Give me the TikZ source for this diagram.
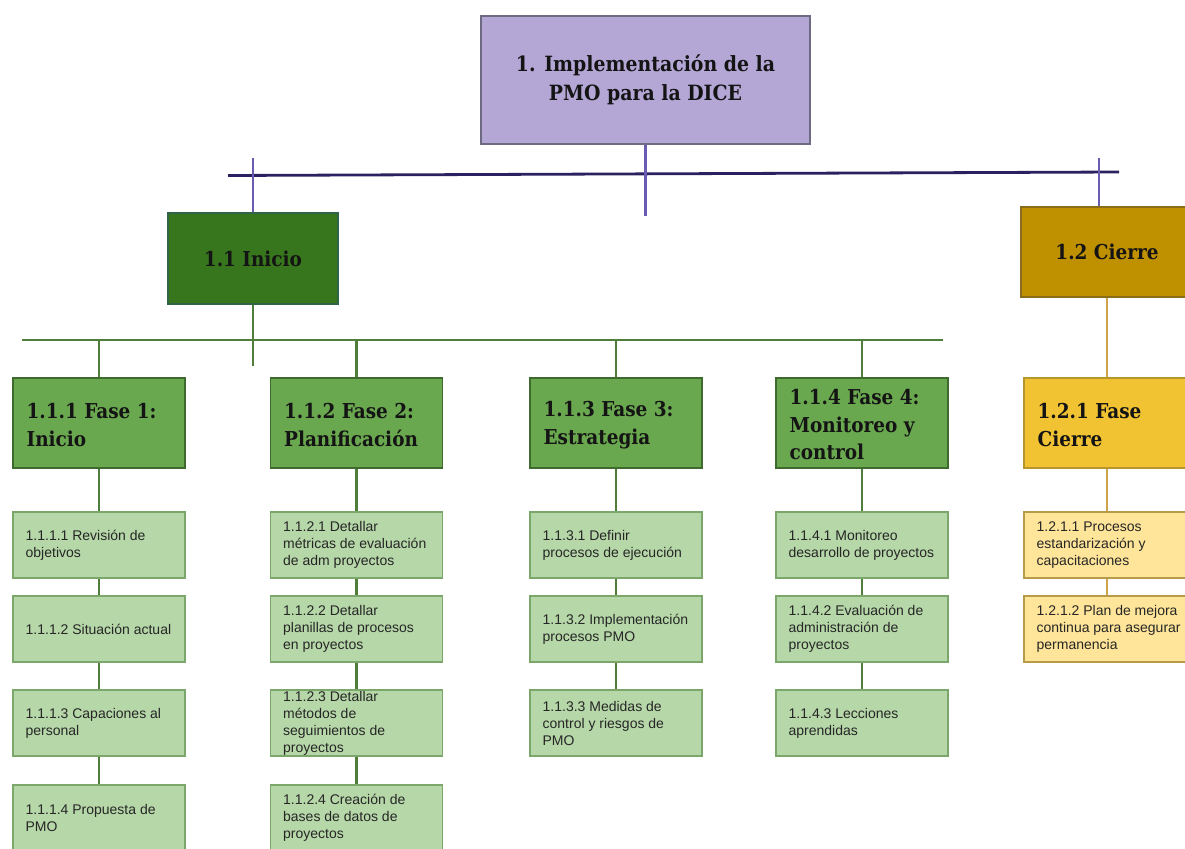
\documentclass[tikz,border=0pt]{standalone}
\usepackage{fontspec}
\newfontfamily\headfont{DejaVu Serif Condensed}
\newfontfamily\bodyfont{Liberation Sans}

\definecolor{ink}{HTML}{141414}
\definecolor{ink2}{HTML}{262626}
\definecolor{busdark}{HTML}{2B2160}
\definecolor{tickpurple}{HTML}{6A5BB3}
\definecolor{topfill}{HTML}{B4A7D6}
\definecolor{topline}{HTML}{6F6A84}
\definecolor{iniciofill}{HTML}{38761D}
\definecolor{inicioline}{HTML}{2F6448}
\definecolor{greenline}{HTML}{4F7D3A}
\definecolor{phasefill}{HTML}{6AA84F}
\definecolor{phaseline}{HTML}{3E6A2D}
\definecolor{leaffill}{HTML}{B6D7A8}
\definecolor{leafline}{HTML}{7BA86A}
\definecolor{cierrefill}{HTML}{BF9000}
\definecolor{cierreline}{HTML}{8A6D1A}
\definecolor{orangeline}{HTML}{CFA24C}
\definecolor{closefill}{HTML}{F1C232}
\definecolor{closeline}{HTML}{B8962E}
\definecolor{closeleaf}{HTML}{FFE599}
\definecolor{closeleafline}{HTML}{B89B48}

\begin{document}
\begin{tikzpicture}[x=1pt,y=-1pt,
  box/.style={rectangle, inner sep=0pt, line width=1.1pt},
  topbox/.style={box, draw=topline, fill=topfill, minimum width=329pt,
    minimum height=128pt, align=center, text=ink,
    font=\headfont\bfseries\fontsize{21}{29}\selectfont},
  midbox/.style={box, minimum width=170pt, minimum height=90pt, text=ink,
    font=\headfont\bfseries\fontsize{20.5}{27}\selectfont},
  phasebox/.style={box, draw=phaseline, fill=phasefill, minimum width=172pt,
    minimum height=90pt},
  closebox/.style={box, draw=closeline, fill=closefill, minimum width=166pt,
    minimum height=90pt},
  leafbox/.style={box, draw=leafline, fill=leaffill, minimum width=172pt,
    minimum height=66pt},
  closeleafbox/.style={box, draw=closeleafline, fill=closeleaf,
    minimum width=166pt, minimum height=66pt},
  phasetext/.style={anchor=west, xshift=14pt, yshift=-2pt, inner sep=0pt, align=left,
    text=ink, font=\headfont\bfseries\fontsize{20.5}{27.5}\selectfont},
  leaftext/.style={anchor=west, xshift=13pt, inner sep=0pt, align=left,
    text=ink2, font=\bodyfont\fontsize{14}{17}\selectfont},
  label distance=0pt,
  busline/.style={draw=busdark, line width=2.8pt},
  tickline/.style={draw=tickpurple, line width=2.1pt},
  greenwire/.style={draw=greenline, line width=2.5pt},
  orangewire/.style={draw=orangeline, line width=2.3pt}
]
\useasboundingbox (0,0) rectangle (1185,848);
\clip (0,0) rectangle (1185,848);
\fill[white] (0,0) rectangle (1185,848);

% free ends of the bus lines and stems
\coordinate (busL) at (228,175.5);
\coordinate (busR) at (1119,172);
\coordinate (topEnd) at (645.5,216);
\coordinate (tickA) at (253,158);
\coordinate (tickB) at (1099,158);
\coordinate (gL) at (22,340);
\coordinate (gR) at (943,340);
\coordinate (inicioEnd) at (253,366);

% level 0 and level 1
\node[topbox] (top) at (645.5,80) {1. Implementación de la\\PMO para la DICE};
\node[midbox, draw=inicioline, fill=iniciofill, minimum height=91pt] (inicio) at (253,258.5) {1.1 Inicio};
\node[midbox, draw=cierreline, fill=cierrefill, minimum width=172pt] (cierre) at (1107,252) {1.2 Cierre};

% phases
\node[phasebox, label={[phasetext]west:{1.1.1 Fase 1:\\Inicio}}] (p1) at (99,423) {};
\node[phasebox, label={[phasetext]west:{1.1.2 Fase 2:\\Planificación}}] (p2) at (356.5,423) {};
\node[phasebox, label={[phasetext]west:{1.1.3 Fase 3:\\Estrategia}}] (p3) at (616,423) {};
\node[phasebox, label={[phasetext]west:{1.1.4 Fase 4:\\Monitoreo y\\control}}] (p4) at (862,423) {};
\node[closebox, label={[phasetext]west:{1.2.1 Fase\\Cierre}}] (p5) at (1107,423) {};

% work packages, phase 1
\node[leafbox, label={[leaftext]west:{1.1.1.1 Revisión de\\objetivos}}] (l11) at (99,545) {};
\node[leafbox, label={[leaftext]west:{1.1.1.2 Situación actual}}] (l12) at (99,629) {};
\node[leafbox, label={[leaftext]west:{1.1.1.3 Capaciones al\\personal}}] (l13) at (99,723) {};
\node[leafbox, label={[leaftext]west:{1.1.1.4 Propuesta de\\PMO}}] (l14) at (99,818) {};

% work packages, phase 2
\node[leafbox, label={[leaftext]west:{1.1.2.1 Detallar\\métricas de evaluación\\de adm proyectos}}] (l21) at (356.5,545) {};
\node[leafbox, label={[leaftext]west:{1.1.2.2 Detallar\\planillas de procesos\\en proyectos}}] (l22) at (356.5,629) {};
\node[leafbox, label={[leaftext]west:{1.1.2.3 Detallar\\métodos de\\seguimientos de\\proyectos}}] (l23) at (356.5,723) {};
\node[leafbox, label={[leaftext]west:{1.1.2.4 Creación de\\bases de datos de\\proyectos}}] (l24) at (356.5,818) {};

% work packages, phase 3
\node[leafbox, label={[leaftext]west:{1.1.3.1 Definir\\procesos de ejecución}}] (l31) at (616,545) {};
\node[leafbox, label={[leaftext]west:{1.1.3.2 Implementación\\procesos PMO}}] (l32) at (616,629) {};
\node[leafbox, label={[leaftext]west:{1.1.3.3 Medidas de\\control y riesgos de\\PMO}}] (l33) at (616,723) {};

% work packages, phase 4
\node[leafbox, label={[leaftext]west:{1.1.4.1 Monitoreo\\desarrollo de proyectos}}] (l41) at (862,545) {};
\node[leafbox, label={[leaftext]west:{1.1.4.2 Evaluación de\\administración de\\proyectos}}] (l42) at (862,629) {};
\node[leafbox, label={[leaftext]west:{1.1.4.3 Lecciones\\aprendidas}}] (l43) at (862,723) {};

% work packages, closing phase
\node[closeleafbox, label={[leaftext]west:{1.2.1.1 Procesos\\estandarización y\\capacitaciones}}] (l51) at (1107,545) {};
\node[closeleafbox, label={[leaftext]west:{1.2.1.2 Plan de mejora\\continua para asegurar\\permanencia}}] (l52) at (1107,629) {};

% purple level
\draw[busline] (busL) -- (busR);
\draw[tickline] (top.south) -- (topEnd);
\draw[tickline] (tickA) -- (inicio.north);
\draw[tickline] (tickB) -- (tickB |- cierre.north);

% green level
\draw[greenwire] (gL) -- (gR);
\draw[greenwire] (inicio.south) -- (inicioEnd);
\foreach \p in {p1,p2,p3,p4}
  \draw[greenwire] (\p.north |- gL) -- (\p.north);

% phase chains
\draw[greenwire] (p1.south) -- (l11.north) (l11.south) -- (l12.north)
  (l12.south) -- (l13.north) (l13.south) -- (l14.north);
\draw[greenwire] (p2.south) -- (l21.north) (l21.south) -- (l22.north)
  (l22.south) -- (l23.north) (l23.south) -- (l24.north);
\draw[greenwire] (p3.south) -- (l31.north) (l31.south) -- (l32.north)
  (l32.south) -- (l33.north);
\draw[greenwire] (p4.south) -- (l41.north) (l41.south) -- (l42.north)
  (l42.south) -- (l43.north);

% closing branch
\draw[orangewire] (cierre.south) -- (p5.north);
\draw[orangewire] (p5.south) -- (l51.north) (l51.south) -- (l52.north);
\end{tikzpicture}
\end{document}
